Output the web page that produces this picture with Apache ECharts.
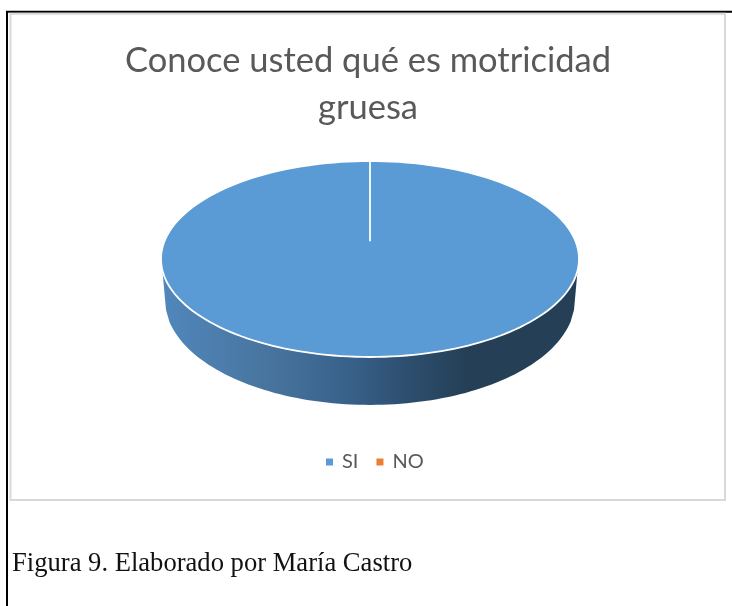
<!DOCTYPE html>
<html><head><meta charset="utf-8">
<style>html,body{margin:0;padding:0;background:#fff}#c{width:732px;height:606px}</style>
<script src="https://cdn.jsdelivr.net/npm/echarts@6/dist/echarts.min.js"></script>
</head><body><div id="c"></div>
<script>
const categories = ['SI', 'NO'];
const values = [100, 0];
const colors = ['#5B9BD5', '#ED7D31'];
const titleText = 'Conoce usted qué es motricidad\ngruesa';
const captionText = 'Figura 9. Elaborado por María Castro';

const total = values.reduce((a, b) => a + b, 0);
const starts = values.map((v, i) => values.slice(0, i).reduce((a, b) => a + b, 0));
const STEPS = 180;

// unit-ellipse point (clockwise from 12 o'clock) → pixels through the axes
function rim(api, frac) {
  const t = frac * 2 * Math.PI;
  return api.coord([Math.sin(t), Math.cos(t)]);
}
function makeItem(idx) {
  return function (params, api) {
    const v = api.value(0);
    if (!v) return { type: 'group', children: [] };
    const from = starts[idx] / total, to = from + v / total;
    const face = [api.coord([0, 0.18])];
    for (let i = 0; i <= STEPS; i++) face.push(rim(api, from + (to - from) * i / STEPS));
    // front wall: upper edge follows the top face, lower edge a slightly narrower ellipse
    const wall = [];
    for (let i = 0; i <= 90; i++) {
      const t = Math.PI * i / 90;
      wall.push(api.coord([Math.cos(t), -Math.sin(t)]));
    }
    wall.push(api.coord([-0.9905, -0.18]));
    wall.push(api.coord([-0.976, -0.52]));
    for (let i = 0; i <= 90; i++) {
      const t = Math.PI * (0.067 + 0.866 * i / 90);
      wall.push(api.coord([-0.981 * Math.cos(t), -0.418 - 1.071 * Math.sin(t)]));
    }
    wall.push(api.coord([0.976, -0.52]));
    wall.push(api.coord([0.9905, -0.18]));
    return {
      type: 'group',
      children: [
        {
          type: 'polygon',
          shape: { points: wall },
          style: {
            fill: new echarts.graphic.LinearGradient(0, 0, 1, 0, [
              { offset: 0, color: '#5187BC' },
              { offset: 0.25, color: '#48759F' },
              { offset: 0.45, color: '#38618A' },
              { offset: 0.58, color: '#2E4F70' },
              { offset: 0.74, color: '#243F56' },
              { offset: 1, color: '#243F56' }
            ])
          }
        },
        {
          type: 'polygon',
          shape: { points: face },
          style: { fill: api.visual('color'), stroke: '#FFFFFF', lineWidth: 1.8 }
        }
      ]
    };
  };
}

const chart = echarts.init(document.getElementById('c'), null, { renderer: 'canvas' });
chart.setOption({
  animation: false,
  backgroundColor: '#fff',
  title: {
    text: titleText, left: 363, top: 32, textAlign: 'center',
    textStyle: { fontFamily: 'Lato', fontWeight: 'normal', fontSize: 34.5, lineHeight: 47, color: '#595959' }
  },
  legend: {
    data: categories, left: 321, top: 447, icon: 'rect', itemWidth: 7, itemHeight: 7, itemGap: 18,
    textStyle: { fontFamily: 'Lato', fontSize: 20, color: '#595959', padding: [0, 0, 0, 4] }
  },
  grid: { left: 161, width: 418, top: 161, height: 196 },
  xAxis: { type: 'value', min: -1, max: 1, show: false },
  yAxis: { type: 'value', min: -1, max: 1, show: false },
  series: categories.map((name, i) => ({
    type: 'custom', name, coordinateSystem: 'cartesian2d',
    itemStyle: { color: colors[i] },
    data: [[values[i]]],
    encode: { x: -1, y: -1 },
    renderItem: makeItem(i),
    silent: true
  })),
  graphic: [
    { type: 'rect', z: -1, shape: { x: 7, y: 11.7, width: 740, height: 620 }, style: { fill: 'none', stroke: '#000', lineWidth: 2 } },
    { type: 'rect', z: -1, shape: { x: 10.5, y: 13.7, width: 714.5, height: 486.3 }, style: { fill: '#fff', stroke: '#D9D9D9', lineWidth: 2 } },
    { type: 'text', style: { x: 12, y: 564, text: captionText, fontFamily: 'Liberation Serif', fontSize: 26.6, fill: '#111', textVerticalAlign: 'middle' } }
  ]
});
</script></body></html>
